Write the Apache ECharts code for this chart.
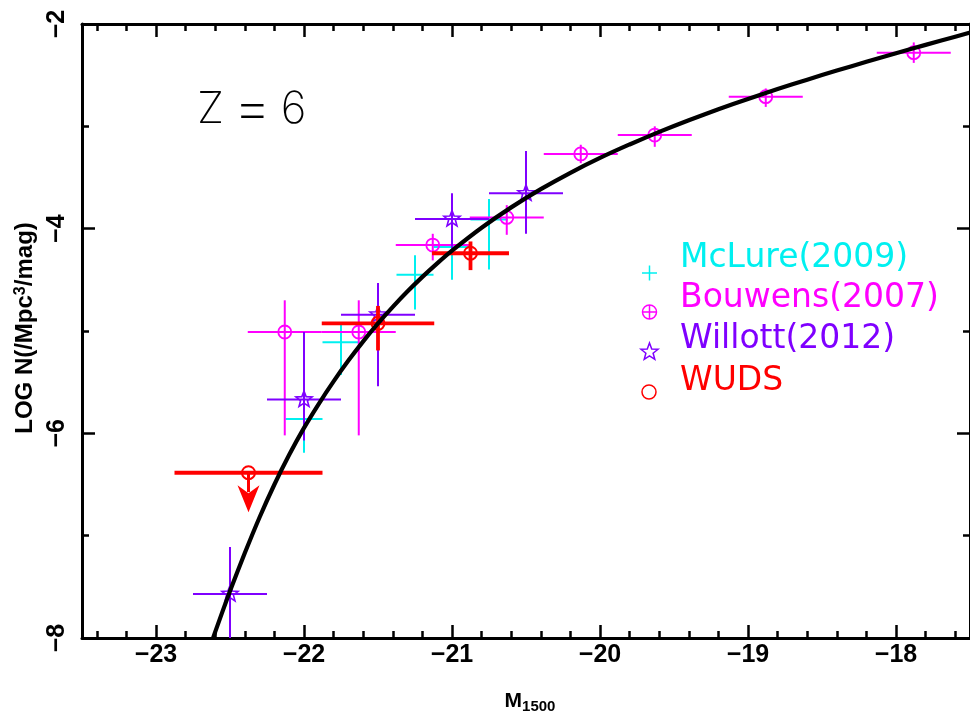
<!DOCTYPE html>
<html><head><meta charset="utf-8">
<script src="https://cdn.jsdelivr.net/npm/echarts@6/dist/echarts.min.js"></script>
<style>html,body{margin:0;padding:0;background:#fff;}#c{width:970px;height:725px;}</style>
</head><body><div id="c"></div>
<script>
// ---- tick labels ----
const xMajorTicks = [-23, -22, -21, -20, -19, -18];
const yMajorTicks = [-8, -6, -4, -2];

// ---- McLure (2009) ----
const mclureM        = [-22.00, -21.75, -21.25, -21.00, -20.75];
const mclureLogN     = [-5.86, -5.11, -4.45, -4.18, -3.91];
const mclureMErr     = [0.125, 0.125, 0.125, 0.125, 0.125];
const mclureLogNLow  = [-6.19, -5.43, -4.79, -4.50, -4.40];
const mclureLogNHigh = [-5.55, -4.94, -4.26, -3.95, -3.71];

// ---- Bouwens (2007) ----
const bouwensM        = [-22.13, -21.63, -21.13, -20.63, -20.13, -19.63, -18.88, -17.88];
const bouwensLogN     = [-5.01, -5.01, -4.16, -3.89, -3.27, -3.085, -2.71, -2.28];
const bouwensMErr     = [0.25, 0.25, 0.25, 0.25, 0.25, 0.25, 0.25, 0.25];
const bouwensLogNLow  = [-6.02, -6.02, -4.31, -4.06, -3.36, -3.20, -2.81, -2.38];
const bouwensLogNHigh = [-4.70, -4.70, -4.05, -3.77, -3.18, -3.00, -2.63, -2.18];

// ---- Willott (2012) ----
const willottM        = [-22.50, -22.00, -21.50, -21.00, -20.50];
const willottLogN     = [-7.57, -5.67, -4.84, -3.905, -3.655];
const willottMErr     = [0.25, 0.25, 0.25, 0.25, 0.25];
const willottLogNLow  = [-8.0, -6.07, -5.54, -4.19, -4.05];
const willottLogNHigh = [-7.11, -5.01, -4.53, -3.655, -3.24];

// ---- WUDS ----
const wudsM        = [-22.375, -21.50, -20.875];
const wudsLogN     = [-6.385, -4.925, -4.24];
const wudsMErr     = [0.50, 0.38, 0.26];
const wudsLogNLow  = [-6.385, -5.19, -4.405];
const wudsLogNHigh = [-6.385, -4.755, -4.125];
const wudsIsUpperLimit = [true, false, false];
const wudsArrowTip = [-6.77, null, null];

// ---- fitted curve ----
const curveM = [-22.65, -22.6, -22.5, -22.4, -22.3, -22.2, -22.1, -22.0, -21.9, -21.8, -21.7, -21.6, -21.5, -21.4, -21.3, -21.2, -21.1, -21.0, -20.8, -20.6, -20.4, -20.2, -20.0, -19.8, -19.6, -19.4, -19.2, -19.0, -18.8, -18.6, -18.4, -18.2, -18.0, -17.8, -17.6, -17.4];
const curveLogN = [-8.15, -7.94, -7.54, -7.17, -6.82, -6.50, -6.21, -5.947, -5.711, -5.492, -5.289, -5.101, -4.926, -4.764, -4.612, -4.471, -4.339, -4.215, -3.991, -3.792, -3.614, -3.454, -3.309, -3.177, -3.054, -2.940, -2.833, -2.732, -2.636, -2.544, -2.455, -2.369, -2.285, -2.204, -2.124, -2.045];

// ---- build ----
const CYAN = '#00f0f0', MAG = '#ff00ff', PUR = '#7f00ff', RED = '#ff0000';
const xMinorTicks = [];
for (let i = -117; i <= -88; i++) { if (i % 5 !== 0) xMinorTicks.push(i / 5); }
const minusFmt = v => (v < 0 ? '\u2212' : '') + Math.abs(v);

function rows(M, L, E, lo, hi) {
  return M.map((m, i) => [m, L[i], m - E[i], m + E[i], lo[i], hi[i]]);
}
function starPoints(cx, cy, R, r) {
  const pts = [];
  for (let k = 0; k < 10; k++) {
    const a = -Math.PI / 2 + k * Math.PI / 5;
    const rr = k % 2 === 0 ? R : r;
    pts.push([cx + rr * Math.cos(a), cy + rr * Math.sin(a)]);
  }
  return pts;
}
function makeRender(color, lw, marker) {
  return function (params, api) {
    const x = api.value(0), y = api.value(1);
    const c = api.coord([x, y]);
    const a = api.coord([api.value(2), y]), b = api.coord([api.value(3), y]);
    const d = api.coord([x, api.value(4)]), u = api.coord([x, api.value(5)]);
    const ch = [
      { type: 'line', shape: { x1: a[0], y1: a[1], x2: b[0], y2: b[1] }, style: { stroke: color, lineWidth: lw } },
      { type: 'line', shape: { x1: d[0], y1: d[1], x2: u[0], y2: u[1] }, style: { stroke: color, lineWidth: lw } }
    ];
    if (marker === 'circle') ch.push({ type: 'circle', shape: { cx: c[0], cy: c[1], r: 6.5 }, style: { fill: 'none', stroke: color, lineWidth: 1.8 } });
    if (marker === 'star') ch.push({ type: 'polygon', shape: { points: starPoints(c[0], c[1], 8.5, 3.6) }, style: { fill: 'none', stroke: color, lineWidth: 1.6 } });
    return { type: 'group', children: ch };
  };
}
function wudsRender(params, api) {
  const i = params.dataIndex;
  const x = api.value(0), y = api.value(1);
  const c = api.coord([x, y]);
  const a = api.coord([api.value(2), y]), b = api.coord([api.value(3), y]);
  const ch = [{ type: 'line', shape: { x1: a[0], y1: a[1], x2: b[0], y2: b[1] }, style: { stroke: RED, lineWidth: 3.8 } }];
  if (wudsIsUpperLimit[i]) {
    const t = api.coord([x, wudsArrowTip[i]]);
    ch.push({ type: 'line', shape: { x1: c[0], y1: c[1], x2: c[0], y2: t[1] - 20 }, style: { stroke: RED, lineWidth: 3 } });
    ch.push({ type: 'polygon', shape: { points: [[t[0] - 11, t[1] - 27], [t[0], t[1] - 19], [t[0] + 11, t[1] - 27], [t[0], t[1]]] }, style: { fill: RED } });
  } else {
    const d = api.coord([x, api.value(4)]), u = api.coord([x, api.value(5)]);
    ch.push({ type: 'line', shape: { x1: d[0], y1: d[1], x2: u[0], y2: u[1] }, style: { stroke: RED, lineWidth: 3.8 } });
  }
  ch.push({ type: 'circle', shape: { cx: c[0], cy: c[1], r: 6.5 }, style: { fill: 'none', stroke: RED, lineWidth: 2 } });
  return { type: 'group', children: ch };
}

const tickStyle = { color: '#000', width: 2.5 };
const axisLineStyle = { show: true, lineStyle: { color: '#000', width: 3 } };
const G = { left: 82, top: 24, width: 894, height: 614 };
const labelFont = { fontSize: 25, fontWeight: 'bold', color: '#000', fontFamily: 'Liberation Sans, Arial, sans-serif' };
const BF = 'Liberation Sans, Arial, sans-serif';

const option = {
  animation: false,
  backgroundColor: '#fff',
  grid: [Object.assign({}, G), Object.assign({}, G)],
  xAxis: [
    { gridIndex: 0, type: 'value', position: 'bottom', min: -23.5, max: -17.5, axisLine: axisLineStyle,
      axisTick: { show: true, inside: true, length: 13, lineStyle: tickStyle, customValues: xMajorTicks },
      axisLabel: Object.assign({ show: true, margin: 5, customValues: xMajorTicks, formatter: minusFmt }, labelFont),
      splitLine: { show: false } },
    { gridIndex: 0, type: 'value', position: 'top', min: -23.5, max: -17.5, axisLine: axisLineStyle,
      axisTick: { show: true, inside: true, length: 13, lineStyle: tickStyle, customValues: xMajorTicks },
      axisLabel: { show: false }, splitLine: { show: false } },
    { gridIndex: 1, type: 'value', position: 'bottom', min: -23.5, max: -17.5, axisLine: { show: false },
      axisTick: { show: true, inside: true, length: 7, lineStyle: tickStyle, customValues: xMinorTicks },
      axisLabel: { show: false }, splitLine: { show: false } },
    { gridIndex: 1, type: 'value', position: 'top', min: -23.5, max: -17.5, axisLine: { show: false },
      axisTick: { show: true, inside: true, length: 7, lineStyle: tickStyle, customValues: xMinorTicks },
      axisLabel: { show: false }, splitLine: { show: false } }
  ],
  yAxis: [
    { gridIndex: 0, type: 'value', position: 'left', min: -8, max: -2, interval: 2, axisLine: axisLineStyle,
      axisTick: { show: true, inside: true, length: 13, lineStyle: tickStyle },
      minorTick: { show: true, splitNumber: 2, length: 7, lineStyle: tickStyle },
      axisLabel: Object.assign({ show: true, rotate: 90, margin: 12, formatter: minusFmt }, labelFont),
      splitLine: { show: false } },
    { gridIndex: 0, type: 'value', position: 'right', min: -8, max: -2, interval: 2, axisLine: axisLineStyle,
      axisTick: { show: true, inside: true, length: 13, lineStyle: tickStyle },
      minorTick: { show: true, splitNumber: 2, length: 7, lineStyle: tickStyle },
      axisLabel: { show: false }, splitLine: { show: false } },
    { gridIndex: 1, type: 'value', min: -8, max: -2, show: false },
    { gridIndex: 1, type: 'value', min: -8, max: -2, show: false }
  ],
  series: [
    { type: 'custom', name: 'McLure(2009)', xAxisIndex: 0, yAxisIndex: 0, clip: true, encode: { x: 0, y: 1 },
      data: rows(mclureM, mclureLogN, mclureMErr, mclureLogNLow, mclureLogNHigh), renderItem: makeRender(CYAN, 2, 'none') },
    { type: 'custom', name: 'Bouwens(2007)', xAxisIndex: 0, yAxisIndex: 0, clip: true, encode: { x: 0, y: 1 },
      data: rows(bouwensM, bouwensLogN, bouwensMErr, bouwensLogNLow, bouwensLogNHigh), renderItem: makeRender(MAG, 2, 'circle') },
    { type: 'custom', name: 'Willott(2012)', xAxisIndex: 0, yAxisIndex: 0, clip: true, encode: { x: 0, y: 1 },
      data: rows(willottM, willottLogN, willottMErr, willottLogNLow, willottLogNHigh), renderItem: makeRender(PUR, 2, 'star') },
    { type: 'custom', name: 'WUDS', xAxisIndex: 0, yAxisIndex: 0, clip: true, encode: { x: 0, y: 1 },
      data: rows(wudsM, wudsLogN, wudsMErr, wudsLogNLow, wudsLogNHigh), renderItem: wudsRender },
    { type: 'line', name: 'fit', xAxisIndex: 0, yAxisIndex: 0, clip: true, smooth: 0.2, showSymbol: false, symbol: 'none',
      lineStyle: { color: '#000', width: 4.2 }, data: curveM.map((m, i) => [m, curveLogN[i]]), z: 10, silent: true }
  ],
  graphic: [
    { type: 'text', x: 197, y: 110,
      style: { text: 'Z{e|=}6', fontSize: 44, fontWeight: 200, fontFamily: 'Inter, DejaVu Sans, sans-serif', fill: '#000', verticalAlign: 'middle',
        rich: { e: { fontSize: 60, fontWeight: 200, fontFamily: 'Inter, DejaVu Sans, sans-serif', padding: [0, 9, 0, 9] } } } },
    { type: 'text', x: 25, y: 328, rotation: Math.PI / 2,
      style: { text: 'LOG N(/Mpc{s|3}/mag)', fontSize: 24, fontWeight: 'bold', fontFamily: BF, fill: '#000', align: 'center', verticalAlign: 'middle',
        rich: { s: { fontSize: 16, fontWeight: 'bold', fontFamily: BF, verticalAlign: 'top', padding: [0, 0, 9, 0] } } } },
    { type: 'text', x: 530, y: 701,
      style: { text: 'M{s|1500}', fontSize: 21, fontWeight: 'bold', fontFamily: BF, fill: '#000', align: 'center', verticalAlign: 'middle',
        rich: { s: { fontSize: 15, fontWeight: 'bold', fontFamily: BF, padding: [12, 0, 0, 0] } } } },
    // legend texts
    { type: 'text', x: 680, y: 258, style: { text: 'McLure(2009)', fill: CYAN, fontSize: 33, fontFamily: 'DejaVu Sans, sans-serif', verticalAlign: 'middle' } },
    { type: 'text', x: 680, y: 298, style: { text: 'Bouwens(2007)', fill: MAG, fontSize: 33, fontFamily: 'DejaVu Sans, sans-serif', verticalAlign: 'middle' } },
    { type: 'text', x: 680, y: 339, style: { text: 'Willott(2012)', fill: PUR, fontSize: 33, fontFamily: 'DejaVu Sans, sans-serif', verticalAlign: 'middle' } },
    { type: 'text', x: 680, y: 381, style: { text: 'WUDS', fill: RED, fontSize: 33, fontFamily: 'DejaVu Sans, sans-serif', verticalAlign: 'middle' } },
    // legend symbols
    { type: 'line', shape: { x1: 642, y1: 273, x2: 657, y2: 273 }, style: { stroke: CYAN, lineWidth: 1.5 } },
    { type: 'line', shape: { x1: 649.5, y1: 265.5, x2: 649.5, y2: 280.5 }, style: { stroke: CYAN, lineWidth: 1.5 } },
    { type: 'circle', shape: { cx: 649.5, cy: 312, r: 7 }, style: { fill: 'none', stroke: MAG, lineWidth: 1.5 } },
    { type: 'line', shape: { x1: 642.5, y1: 312, x2: 656.5, y2: 312 }, style: { stroke: MAG, lineWidth: 1.5 } },
    { type: 'line', shape: { x1: 649.5, y1: 305, x2: 649.5, y2: 319 }, style: { stroke: MAG, lineWidth: 1.5 } },
    { type: 'polygon', shape: { points: starPoints(649.5, 352, 9, 3.8) }, style: { fill: 'none', stroke: PUR, lineWidth: 1.5 } },
    { type: 'circle', shape: { cx: 649, cy: 392, r: 7 }, style: { fill: 'none', stroke: RED, lineWidth: 1.5 } }
  ]
};
const chart = echarts.init(document.getElementById('c'));
chart.setOption(option);
</script></body></html>
